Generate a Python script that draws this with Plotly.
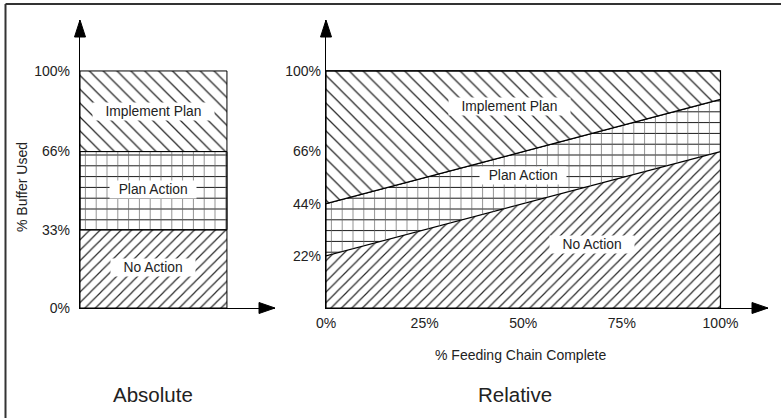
import plotly.graph_objects as go

# ---- data ----
zones = ["No Action", "Plan Action", "Implement Plan"]
abs_bounds = [0, 33, 66, 100]          # absolute buffer zone boundaries (% buffer used)
abs_ticks = [0, 33, 66, 100]
rel_x = [0, 100]                       # % feeding chain complete
rel_lower = [22, 66]                   # No Action / Plan Action boundary
rel_upper = [44, 88]                   # Plan Action / Implement Plan boundary
rel_top = [100, 100]
rel_base = [0, 0]
rel_yticks = [22, 44, 66, 100]
rel_xticks = [0, 25, 50, 75, 100]

FONT = "Arial, Liberation Sans, sans-serif"
# each zone: list of pattern layers (first one opaque white background, others overlaid)
patterns = {
    "No Action": [dict(shape="/", size=7.4, solidity=0.16, fgcolor="#2a2a2a")],
    "Plan Action": [dict(shape="-", size=10.8, solidity=0.09, fgcolor="#111"),
                    dict(shape="|", size=10.8, solidity=0.065, fgcolor="#666")],
    "Implement Plan": [dict(shape="\\", size=9.8, solidity=0.13, fgcolor="#2a2a2a")],
}
label_pad = {"No Action": 3, "Plan Action": 2, "Implement Plan": 3}

fig = go.Figure()


def pat(p, first):
    return dict(shape=p["shape"], size=p["size"], solidity=p["solidity"], fgcolor=p["fgcolor"],
                bgcolor="white" if first else "rgba(0,0,0,0)", fillmode="replace")


# ---- left panel: absolute ----
for i, z in enumerate(zones):
    for j, p in enumerate(patterns[z]):
        fig.add_trace(go.Bar(
            x=[0.5], y=[abs_bounds[i + 1] - abs_bounds[i]], base=[abs_bounds[i]], width=[1],
            marker=dict(color="white" if j == 0 else "rgba(0,0,0,0)",
                        line=dict(color="black", width=1), pattern=pat(p, j == 0)),
            xaxis="x", yaxis="y", showlegend=False, hoverinfo="skip"))

# ---- right panel: relative ----
prev = rel_base
fig.add_trace(go.Scatter(x=rel_x, y=rel_base, mode="lines", line=dict(width=0, color="black"),
                         xaxis="x2", yaxis="y2", showlegend=False, hoverinfo="skip"))
for z, ys in zip(zones, [rel_lower, rel_upper, rel_top]):
    for j, p in enumerate(patterns[z]):
        if j > 0:
            # invisible copy of the lower boundary so the next layer fills the same band
            fig.add_trace(go.Scatter(x=rel_x, y=prev, mode="lines", line=dict(width=0, color="black"),
                                     xaxis="x2", yaxis="y2", showlegend=False, hoverinfo="skip"))
        fig.add_trace(go.Scatter(
            x=rel_x, y=ys, mode="lines", fill="tonexty",
            line=dict(color="black", width=1.2),
            fillcolor="white" if j == 0 else "rgba(0,0,0,0)",
            fillpattern=pat(p, j == 0),
            xaxis="x2", yaxis="y2", showlegend=False, hoverinfo="skip"))
    prev = ys

# box outline of right panel
fig.add_shape(type="rect", xref="x2", yref="y2", x0=rel_x[0], x1=rel_x[-1], y0=0, y1=100,
              line=dict(color="black", width=1.2), fillcolor="rgba(0,0,0,0)")

W, H = 781, 418
ytop = 121.5
ydom = [(H - 308) / H, (H - 20) / H]

common = dict(showgrid=False, zeroline=False, showline=True, linecolor="black", linewidth=1.2,
              ticks="", automargin=False, fixedrange=True)
fig.update_layout(
    width=W, height=H, margin=dict(l=0, r=0, t=0, b=0, autoexpand=False),
    paper_bgcolor="white", plot_bgcolor="white",
    barmode="overlay",
    font=dict(family=FONT, size=14, color="#222"),
    xaxis=dict(domain=[80 / W, 275 / W], range=[0, 1.327], showticklabels=False, **common),
    yaxis=dict(domain=ydom, range=[0, ytop],
               tickvals=abs_ticks, ticktext=[f"{v}%" for v in abs_ticks],
               ticklabelstandoff=6, anchor="x", **common),
    xaxis2=dict(domain=[326 / W, 768 / W], range=[0, 112.05],
                tickvals=rel_xticks, ticktext=[f"{v}%" for v in rel_xticks],
                ticklabelstandoff=2, anchor="y2", **common),
    yaxis2=dict(domain=ydom, range=[0, ytop],
                tickvals=rel_yticks, ticktext=[f"{v}%" for v in rel_yticks],
                ticklabelstandoff=1, anchor="x2", **common),
)

# arrowheads at axis ends
up = "M0,0 L-5.5,-17 L5.5,-17 Z"
right = "M0,0 L-16,5.5 L-16,-5.5 Z"
for xr, yr in [("x", "y"), ("x2", "y2")]:
    fig.add_shape(type="path", xref=f"{xr} domain", yref=f"{yr} domain",
                  xsizemode="pixel", ysizemode="pixel", xanchor=0, yanchor=1,
                  path=up, fillcolor="black", line=dict(color="black", width=1))
    fig.add_shape(type="path", xref=f"{xr} domain", yref=f"{yr} domain",
                  xsizemode="pixel", ysizemode="pixel", xanchor=1, yanchor=0,
                  path=right, fillcolor="black", line=dict(color="black", width=1))

# frame (top and left edges)
fig.add_shape(type="line", xref="paper", yref="paper", x0=5.5 / W, x1=1, y0=1 - 4 / H, y1=1 - 4 / H,
              line=dict(color="#333", width=2))
fig.add_shape(type="line", xref="paper", yref="paper", x0=5.5 / W, x1=5.5 / W, y0=0, y1=1 - 4 / H,
              line=dict(color="#333", width=2))

ctr = dict(xanchor="center", yanchor="middle", showarrow=False)

# axis titles
fig.add_annotation(x=22 / W, y=1 - 187 / H, xref="paper", yref="paper", text="% Buffer Used",
                   textangle=-90, font=dict(size=14, color="#222"), **ctr)
fig.add_annotation(x=520 / W, y=1 - 355 / H, xref="paper", yref="paper",
                   text="% Feeding Chain Complete", font=dict(size=14, color="#222"), **ctr)

# zone labels
lab = dict(bgcolor="white", borderpad=1, font=dict(size=13.8, color="#222"), **ctr)


def padded(z):
    s = "\u00a0" * label_pad[z]
    return s + z + s


for z, yv in zip(zones, [17, 50, 83]):
    fig.add_annotation(x=0.5, y=yv, xref="x", yref="y", text=padded(z), **lab)
for z, xv, yv in zip(zones, [67.5, 50, 46.5], [26.6, 55.7, 85]):
    fig.add_annotation(x=xv, y=yv, xref="x2", yref="y2", text=padded(z), **lab)

# panel titles
fig.add_annotation(x=153 / W, y=1 - 394 / H, xref="paper", yref="paper", text="Absolute",
                   font=dict(size=20.5, color="#222"), **ctr)
fig.add_annotation(x=515 / W, y=1 - 394 / H, xref="paper", yref="paper", text="Relative",
                   font=dict(size=20.5, color="#222"), **ctr)

fig.write_html("out.html", config={"displayModeBar": False, "staticPlot": True},
               post_script="document.body.style.margin='0';document.body.style.overflow='hidden';")
